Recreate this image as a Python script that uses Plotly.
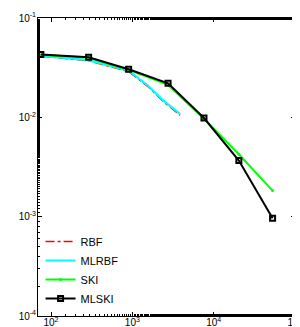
import plotly.graph_objects as go

# Data
rbf_x = [75, 290, 900, 1560, 2390, 3860]
rbf_y = [0.0414, 0.0371, 0.0289, 0.0204, 0.0145, 0.0105]

mlrbf_x = [75, 290, 900, 1560, 2390, 3860]
mlrbf_y = [0.0418, 0.0375, 0.0294, 0.0208, 0.0148, 0.0108]

ski_x = [75, 290, 900, 2750, 7600, 20400, 53000]
ski_y = [0.0426, 0.0398, 0.0300, 0.0212, 0.0097, 0.00425, 0.00183]

mlski_x = [75, 290, 900, 2750, 7600, 20400, 53000]
mlski_y = [0.0428, 0.0403, 0.0305, 0.0220, 0.00984, 0.00367, 0.000964]

x_tick_vals = [100, 1000, 10000, 100000]
x_tick_text = ["10<sup>2</sup>", "10<sup>3</sup>", "10<sup>4</sup>", "10<sup>5</sup>"]
y_tick_vals = [1e-4, 1e-3, 1e-2, 1e-1]
y_tick_text = ["10<sup>-4</sup>", "10<sup>-3</sup>", "10<sup>-2</sup>", "10<sup>-1</sup>"]

fig = go.Figure()
fig.add_trace(go.Scatter(x=mlrbf_x, y=mlrbf_y, name="MLRBF", mode="lines",
                         line=dict(color="#00ffff", width=2), showlegend=False))
fig.add_trace(go.Scatter(x=rbf_x, y=rbf_y, name="RBF", mode="lines",
                         line=dict(color="#ff0000", width=1.5, dash="dashdot")))
fig.add_trace(go.Scatter(x=mlrbf_x, y=mlrbf_y, name="MLRBF", mode="lines",
                         line=dict(color="#00ffff", width=2)))
fig.add_trace(go.Scatter(x=ski_x, y=ski_y, name="SKI", mode="lines+markers",
                         line=dict(color="#00ff00", width=2),
                         marker=dict(symbol="circle", size=3, color="#00ff00")))
fig.add_trace(go.Scatter(x=mlski_x, y=mlski_y, name="MLSKI", mode="lines+markers",
                         line=dict(color="#000000", width=2),
                         marker=dict(symbol="square-open", size=5, color="#000000",
                                     line=dict(width=2, color="#000000"))))

axis_common = dict(
    type="log", showgrid=False, zeroline=False, automargin=False,
    showline=True, linecolor="black", linewidth=1, mirror="allticks",
    ticks="inside", ticklen=4, tickcolor="black",
    minor=dict(ticks="inside", ticklen=2, tickcolor="black", showgrid=False),
    tickfont=dict(family="Liberation Sans, Arial", size=10, color="black"),
)

fig.update_xaxes(range=[1.84, 5.0], tickvals=x_tick_vals, ticktext=x_tick_text,
                 ticklabelstandoff=-3, **axis_common)
fig.update_yaxes(range=[-4, -1], tickvals=y_tick_vals, ticktext=y_tick_text,
                 ticklabelstandoff=-1, **axis_common)

fig.update_layout(
    width=300, height=327,
    margin=dict(l=30, r=13, t=10, b=19),
    paper_bgcolor="white", plot_bgcolor="white",
    font=dict(family="Liberation Sans, Arial", size=11, color="black"),
    legend=dict(x=0.01, y=0.01, xanchor="left", yanchor="bottom",
                bgcolor="rgba(0,0,0,0)", borderwidth=0,
                font=dict(size=11), tracegroupgap=0),
)

fig.write_html("out.html")
